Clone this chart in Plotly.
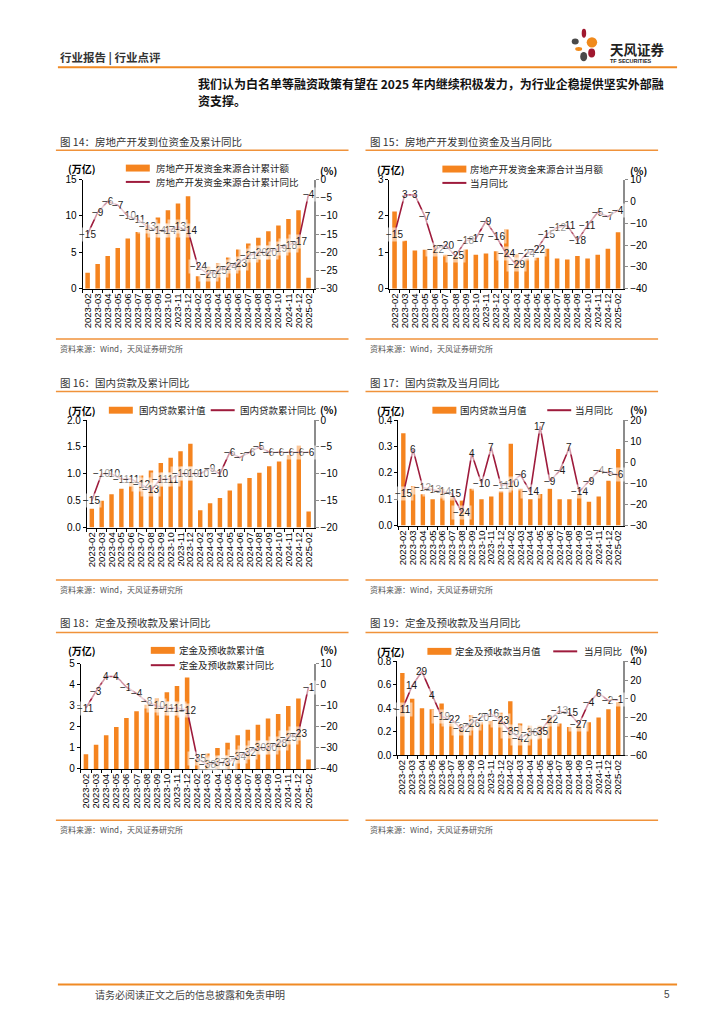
import plotly.graph_objects as go

W, H = 724, 1024
def px(x): return x / W
def py(y): return 1 - y / H

months = ["2023-02", "2023-03", "2023-04", "2023-05", "2023-06", "2023-07", "2023-08",
          "2023-09", "2023-10", "2023-11", "2023-12", "2024-02", "2024-03", "2024-04",
          "2024-05", "2024-06", "2024-07", "2024-08", "2024-09", "2024-10", "2024-11",
          "2024-12", "2025-02"]

# 图14 房地产开发资金来源合计累计额 (万亿) / 累计同比 (%)
c14_bar = [2.2, 3.4, 4.5, 5.6, 6.9, 7.8, 8.8, 9.8, 10.8, 11.7, 12.7, 1.7, 3.0, 3.5, 4.3, 5.4, 6.2, 7.0, 7.9, 8.7, 9.6, 10.8, 1.5]
c14_line = [-15, -9, -6, -7, -10, -11, -13, -14, -14, -13, -14, -24, -26, -25, -24, -23, -21, -20, -20, -19, -18, -17, -4]
# 图15 当月额 / 当月同比
c15_bar = [2.12, 1.32, 1.05, 1.07, 1.2, 0.93, 0.88, 1.08, 0.93, 0.97, 1.03, 1.63, 0.95, 0.83, 0.85, 1.1, 0.83, 0.8, 0.9, 0.83, 0.93, 1.1, 1.55]
c15_line = [-15, 3, 3, -7, -22, -20, -25, -18, -17, -9, -16, -24, -29, -24, -22, -15, -12, -11, -18, -11, -5, -7, -4]
# 图16 国内贷款累计值 / 累计同比
c16_bar = [0.35, 0.5, 0.62, 0.72, 0.85, 0.97, 1.06, 1.2, 1.3, 1.42, 1.56, 0.32, 0.45, 0.55, 0.69, 0.82, 0.92, 1.02, 1.14, 1.23, 1.35, 1.52, 0.3]
c16_line = [-15, -10, -10, -11, -11, -12, -13, -11, -11, -10, -10, -10, -9, -10, -6, -7, -6, -5, -6, -6, -6, -6, -6]
# 图17 国内贷款当月值 / 当月同比
c17_bar = [0.35, 0.15, 0.12, 0.1, 0.14, 0.11, 0.095, 0.14, 0.1, 0.11, 0.13, 0.31, 0.14, 0.1, 0.12, 0.14, 0.1, 0.1, 0.12, 0.09, 0.11, 0.17, 0.29]
c17_line = [-15, 6, -12, -13, -14, -15, -24, 4, -10, 7, -11, -10, -6, -14, 17, -9, -4, 7, -14, -9, -4, -5, -6]
# 图18 定金及预收款累计值 / 累计同比
c18_bar = [0.7, 1.15, 1.6, 2.0, 2.42, 2.75, 3.05, 3.35, 3.65, 3.95, 4.35, 0.46, 0.73, 1.0, 1.25, 1.6, 1.87, 2.1, 2.4, 2.62, 3.0, 3.35, 0.45]
c18_line = [-11, -3, 4, 4, -1, -4, -8, -10, -11, -11, -12, -35, -38, -37, -37, -34, -32, -30, -30, -28, -25, -23, -1]
# 图19 定金及预收款当月值 / 当月同比
c19_bar = [0.7, 0.48, 0.4, 0.39, 0.44, 0.27, 0.26, 0.34, 0.28, 0.29, 0.36, 0.46, 0.27, 0.25, 0.25, 0.34, 0.27, 0.24, 0.25, 0.28, 0.32, 0.39, 0.45]
c19_line = [-11, 14, 29, 4, -19, -22, -32, -26, -20, -16, -23, -35, -42, -36, -35, -22, -13, -15, -27, -4, 6, -2, -1]

titles = ["图 14：房地产开发到位资金及累计同比", "图 15：房地产开发到位资金及当月同比",
          "图 16：国内贷款及累计同比", "图 17：国内贷款及当月同比",
          "图 18：定金及预收款及累计同比", "图 19：定金及预收款及当月同比"]
bar_names = ["房地产开发资金来源合计累计额", "房地产开发资金来源合计当月额", "国内贷款累计值",
             "国内贷款当月值", "定金及预收款累计值", "定金及预收款当月值"]
line_names = ["房地产开发资金来源合计累计同比", "当月同比", "国内贷款累计同比",
              "当月同比", "定金及预收款累计同比", "当月同比"]

BAR_C = "#F5841F"
LINE_C = "#9E1B3C"
ORANGE_RULE = "#F0923A"
FONT = "Liberation Sans, Noto Sans CJK SC"
CJK = "Noto Sans CJK SC"

charts = [
    dict(bar=c14_bar, line=c14_line, box=(81.7, 313, 175.7, 286), lr=[0, 15], ld=5, rr=[-30, 0], rd=5, fmt=None,
         leg=dict(bx=125, by=164, lx=125, ly=178, tx=153), col=0, ty=137, rt=146, rb=337, py_=166),
    dict(bar=c15_bar, line=c15_line, box=(389, 623, 175.7, 286), lr=[0, 3], ld=1, rr=[-40, 10], rd=10, fmt=None,
         leg=dict(bx=442, by=165, lx=442, ly=179, tx=468), col=1, ty=137, rt=146, rb=337, py_=166),
    dict(bar=c16_bar, line=c16_line, box=(86, 313, 419, 527.7), lr=[0, 2], ld=0.5, rr=[-20, 0], rd=5, fmt=".1f",
         leg=dict(bx=108, by=409, tx=136, lx=210, ly=409, tx2=237), col=0, ty=381, rt=390, rb=580.7, py_=408),
    dict(bar=c17_bar, line=c17_line, box=(398, 623, 419, 525.7), lr=[0, 0.4], ld=0.1, rr=[-30, 20], rd=10, fmt=".1f",
         leg=dict(bx=432, by=409, tx=458, lx=547, ly=409, tx2=573), col=1, ty=381, rt=390, rb=580.7, py_=408),
    dict(bar=c18_bar, line=c18_line, box=(80, 313, 665.7, 772), lr=[0, 5], ld=1, rr=[-40, 10], rd=10, fmt=None,
         leg=dict(bx=150, by=652, lx=150, ly=667, tx=176), col=0, ty=624, rt=634, rb=824, py_=651),
    dict(bar=c19_bar, line=c19_line, box=(397, 623, 663, 758), lr=[0, 0.8], ld=0.2, rr=[-60, 40], rd=20, fmt=".1f",
         leg=dict(bx=427, by=653, tx=453, lx=553, ly=653, tx2=582), col=1, ty=624, rt=634, rb=824, py_=651),
]

fig = go.Figure()
layout = dict(width=W, height=H, margin=dict(l=0, r=0, t=0, b=0), paper_bgcolor="white",
              plot_bgcolor="rgba(0,0,0,0)", showlegend=False, font=dict(family=FONT, color="#000"))
annotations = []
shapes = []

def text(x, y, s, size=10, color="#000", anchor="left", family=FONT, bold=False):
    if bold:
        s = "<b>" + s + "</b>"
    annotations.append(dict(x=px(x), y=py(y), xref="paper", yref="paper", text=s, showarrow=False,
                            xanchor=anchor, yanchor="middle", font=dict(size=size, color=color, family=family)))

def hline(x0, x1, y, color=ORANGE_RULE, width=1.5):
    shapes.append(dict(type="line", xref="paper", yref="paper", x0=px(x0), x1=px(x1), y0=py(y), y1=py(y),
                       line=dict(color=color, width=width)))

for i, c in enumerate(charts, 1):
    xn = "x" if i == 1 else f"x{i}"
    yl = "y" if i == 1 else f"y{2*i-1}"
    yr = f"y{2*i}"
    x0, x1, ytop, ybot = c["box"]
    layout["xaxis" if i == 1 else f"xaxis{i}"] = dict(
        domain=[px(x0), px(x1)], anchor=yl, type="category", tickangle=-90, showline=True,
        linecolor="#000", linewidth=1, ticks="outside", tickson="boundaries", ticklen=3, tickcolor="#000",
        tickmode="array", tickvals=months, ticktext=months,
        tickfont=dict(size=9.5, family=FONT), showgrid=False, zeroline=False, range=[-0.5, 22.5])
    layout["yaxis" if i == 1 else f"yaxis{2*i-1}"] = dict(
        domain=[py(ybot), py(ytop)], anchor=xn, range=c["lr"], dtick=c["ld"], tick0=0, showline=True,
        linecolor="#000", linewidth=1, ticks="outside", ticklen=3, tickcolor="#000", showgrid=False,
        zeroline=False, tickfont=dict(size=10, family=FONT), tickformat=c["fmt"] or "")
    layout[f"yaxis{2*i}"] = dict(
        overlaying=yl, side="right", anchor=xn, range=c["rr"], dtick=c["rd"], tick0=0, showline=True,
        linecolor="#8c8c8c", linewidth=2, ticks="outside", ticklen=3, tickcolor="#8c8c8c", showgrid=False,
        zeroline=False, tickfont=dict(size=10, family=FONT))
    fig.add_trace(go.Bar(x=months, y=c["bar"], xaxis=xn, yaxis=yl, marker=dict(color=BAR_C, line=dict(width=0)),
                         width=0.45, name=bar_names[i-1]))
    fig.add_trace(go.Scatter(x=months, y=c["line"], xaxis=xn, yaxis=yr, mode="lines",
                             line=dict(color=LINE_C, width=1.6), name=line_names[i-1]))
    for m, v in zip(months, c["line"]):
        annotations.append(dict(x=m, y=v, xref=xn, yref=yr, text=str(v).replace("-", "−"), showarrow=False,
                                xanchor="center", yanchor="middle", font=dict(size=10, color="#1a1a1a", family=FONT),
                                bgcolor="rgba(255,255,255,0.55)", borderpad=1))
    # legend
    lg = c["leg"]
    shapes.append(dict(type="rect", xref="paper", yref="paper", x0=px(lg["bx"]), x1=px(lg["bx"] + 24),
                       y0=py(lg["by"] + 3.5), y1=py(lg["by"] - 3.5), fillcolor=BAR_C, line=dict(width=0)))
    shapes.append(dict(type="line", xref="paper", yref="paper", x0=px(lg["lx"]), x1=px(lg["lx"] + 24),
                       y0=py(lg["ly"]), y1=py(lg["ly"]), line=dict(color=LINE_C, width=2)))
    text(lg["tx"], lg["by"], bar_names[i-1], size=9.5, color="#222", family=CJK)
    text(lg.get("tx2", lg["tx"]), lg["ly"], line_names[i-1], size=9.5, color="#222", family=CJK)
    # units
    colx = 0 if c["col"] == 0 else 310
    text(65 + colx, lg["by"], "(万亿)", size=10, family=CJK, bold=True)
    text(328 + colx, c["py_"], "(%)", size=10, family=CJK, bold=True, anchor="center")
    # title, rules, source
    tx = 57 if c["col"] == 0 else 368
    rx0, rx1 = (55, 348) if c["col"] == 0 else (365, 658)
    text(tx, c["ty"], titles[i-1], size=10.5, color="#333", family=CJK)
    hline(rx0, rx1, c["rt"])
    hline(rx0, rx1, c["rb"])
    text(tx, c["rb"] + 9.5, "资料来源：Wind，天风证券研究所", size=8, color="#555", family=CJK)

# page header
text(57, 52, "行业报告 | 行业点评", size=11.5, color="#333", family=CJK, bold=True)
hline(57, 677, 62, color="#F08A24", width=2)
text(195, 78, "我们认为白名单等融资政策有望在 2025 年内继续积极发力，为行业企稳提供坚实外部融", size=12, color="#111", family=CJK, bold=True)
text(195, 96, "资支撑。", size=12, color="#111", family=CJK, bold=True)
# logo petals
petals = [(581.5, 23, 586, 32, "#A0182F"), (586.5, 31.5, 597, 42, "#F08A1C"), (571.5, 33, 578.5, 39, "#4a4a4a"),
          (575, 41.5, 582, 45.5, "#F08A1C"), (588, 43, 595, 52, "#A0182F"), (580, 46.5, 587, 56, "#4a4a4a")]
for a, b, cc, d, col in petals:
    shapes.append(dict(type="circle", xref="paper", yref="paper", x0=px(a), x1=px(cc), y0=py(d), y1=py(b),
                       fillcolor=col, line=dict(width=0)))
text(608, 43.5, "天风证券", size=13.5, color="#222", family=CJK, bold=True)
text(608, 56, "TF SECURITIES", size=5.5, color="#222", bold=True)
# footer
hline(57, 677, 990, color="#F08A24", width=2)
text(92, 1000, "请务必阅读正文之后的信息披露和免责申明", size=10, color="#444", family=CJK)
text(672, 1000, "5", size=10, color="#444", anchor="right")

layout["annotations"] = annotations
layout["shapes"] = shapes
fig.update_layout(**layout)
fig.write_html("out.html", config={"displayModeBar": False},
               post_script="document.body.style.margin='0';document.body.style.overflow='hidden';")
